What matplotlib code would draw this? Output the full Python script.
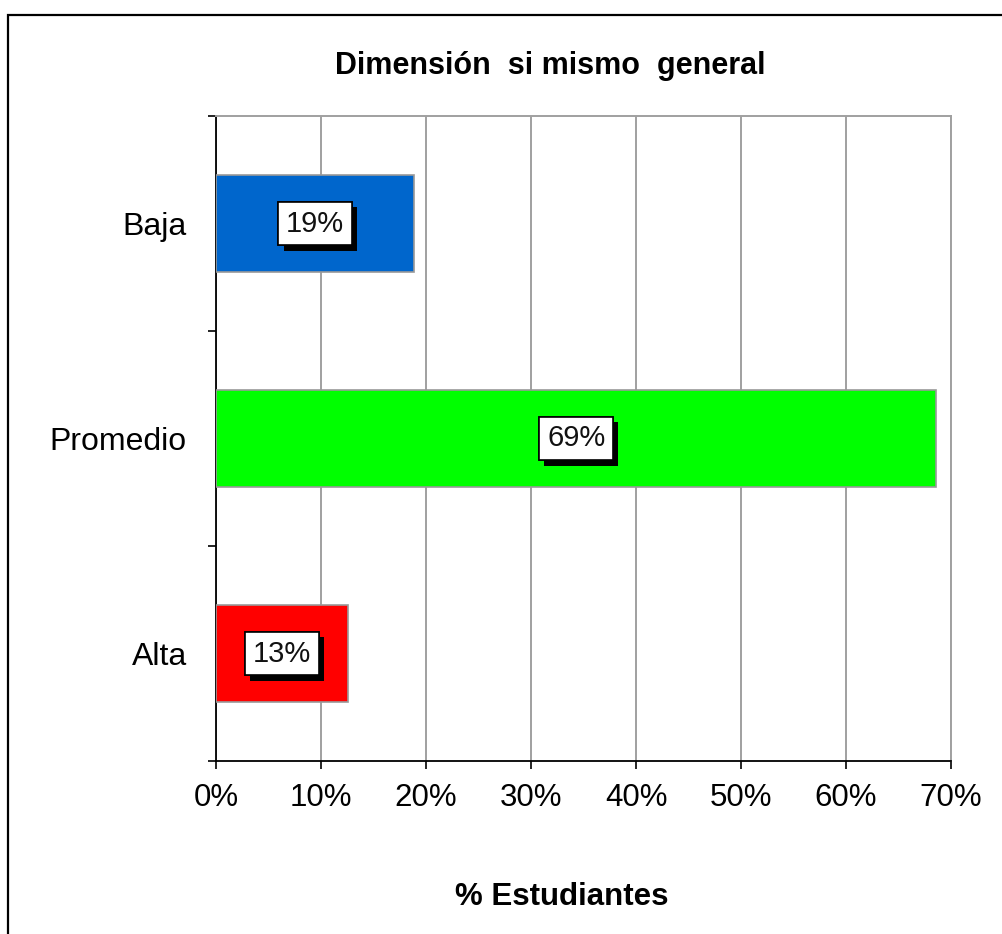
import matplotlib
matplotlib.use("Agg")
import matplotlib.pyplot as plt
import matplotlib.patches as mpatches
import matplotlib.patheffects as pe
from matplotlib.ticker import FixedLocator, PercentFormatter

plt.rcParams['font.family'] = ['Liberation Sans', 'DejaVu Sans']

title = "Dimensión  si mismo  general"
xlabel = "% Estudiantes"
categories = ["Baja", "Promedio", "Alta"]
values = [18.9, 68.6, 12.6]
colors = ["#0066CC", "#00FF00", "#FF0000"]
xticks = [0, 10, 20, 30, 40, 50, 60, 70]

W, H = 1002, 934
fig = plt.figure(figsize=(W / 100, H / 100), dpi=100)
ax = fig.add_axes([216 / W, 1 - 761 / H, (951 - 216) / W, (761 - 116) / H])

n = len(categories)
ypos = [n - 1 - i for i in range(n)]
ax.barh(ypos, values, height=0.45, color=colors, edgecolor="#999999", linewidth=1.2, zorder=3)

for y, v in zip(ypos, values):
    t = ax.text(v / 2, y, f"{int(v + 0.5):d}%", ha="center", va="center", fontsize=21, color="#111111",
                zorder=5,
                bbox=dict(boxstyle="square,pad=0.27", facecolor="white", edgecolor="black", linewidth=1.2))
    t.get_bbox_patch().set_path_effects([
        pe.withSimplePatchShadow(offset=(3.8, -3.8), shadow_rgbFace="black", alpha=1.0),
        pe.Normal()])

ax.set_xlim(0, 70)
ax.set_ylim(-0.5, n - 0.5)
ax.xaxis.set_major_locator(FixedLocator(xticks))
ax.xaxis.set_major_formatter(PercentFormatter(decimals=0))
ax.grid(axis="x", color="#A0A0A0", linewidth=1.4, zorder=0)
ax.set_axisbelow(True)

ax.yaxis.set_major_locator(FixedLocator([-0.5, 0.5, 1.5, 2.5]))
ax.yaxis.set_major_formatter(plt.NullFormatter())
ax.yaxis.set_minor_locator(FixedLocator(ypos))
ax.set_yticks(ypos, categories, minor=True)
ax.tick_params(axis="y", which="major", direction="out", length=6, width=1.2, color="black")
ax.tick_params(axis="y", which="minor", length=0, pad=21, labelsize=23)
ax.tick_params(axis="x", which="major", direction="out", length=6, width=1.2, color="black",
               pad=10, labelsize=22.5)

for s in ["left", "bottom"]:
    ax.spines[s].set_color("black")
    ax.spines[s].set_linewidth(1.3)
for s in ["top", "right"]:
    ax.spines[s].set_color("#A0A0A0")
    ax.spines[s].set_linewidth(1.4)

fig.text(550 / W, 1 - 66 / H, title, ha="center", va="center", fontsize=22, fontweight="bold")
fig.text(562 / W, 1 - 897 / H, xlabel, ha="center", va="center", fontsize=22.5, fontweight="bold")

border = mpatches.Rectangle((8 / W, -0.05), 1.1, 1 - 15 / H + 0.05, transform=fig.transFigure,
                            fill=False, edgecolor="black", linewidth=1.6)
fig.patches.append(border)

fig.savefig("out.png", dpi=100)
